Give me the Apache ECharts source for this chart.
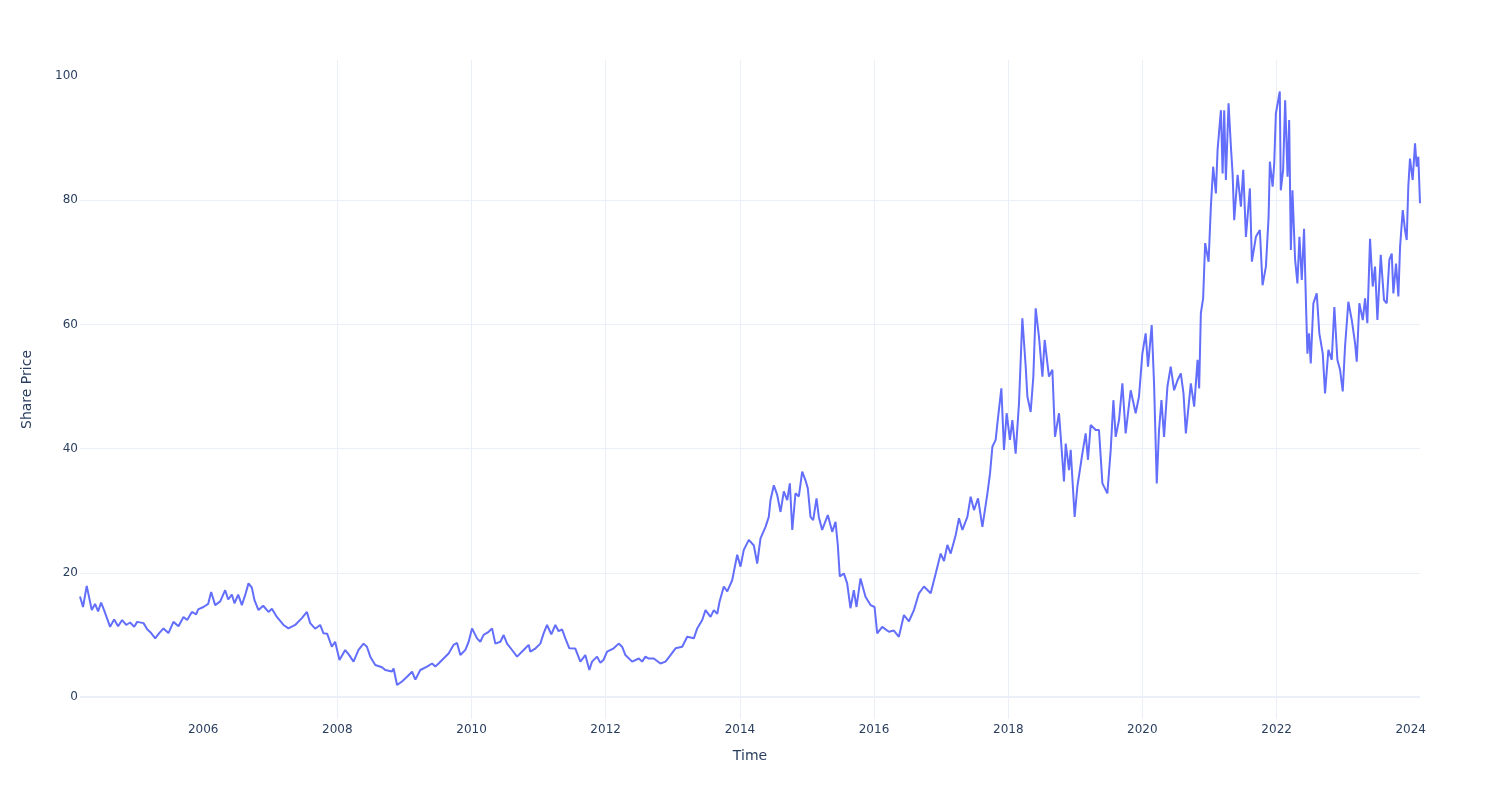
<!DOCTYPE html>
<html><head><meta charset="utf-8">
<script src="https://cdn.jsdelivr.net/npm/echarts@6/dist/echarts.min.js"></script>
<style>html,body{margin:0;padding:0;background:#fff}#c{width:1500px;height:800px}</style>
</head><body><div id="c"></div>
<script>
// time as decimal years
const timeYears = [
2004.165,2004.210,2004.265,2004.340,2004.389,2004.434,2004.479,2004.523,2004.613,2004.673,
2004.732,2004.792,2004.852,2004.911,2004.971,2005.016,2005.110,2005.165,2005.224,2005.284,
2005.344,2005.408,2005.482,2005.557,2005.632,2005.706,2005.761,2005.831,2005.896,2005.925,
2006.004,2006.075,2006.119,2006.179,2006.254,2006.328,2006.373,2006.428,2006.467,2006.522,
2006.577,2006.626,2006.676,2006.726,2006.765,2006.825,2006.895,2006.974,2007.025,2007.099,
2007.198,2007.272,2007.372,2007.472,2007.547,2007.596,2007.670,2007.745,2007.794,2007.849,
2007.919,2007.968,2008.033,2008.118,2008.167,2008.242,2008.316,2008.391,2008.441,2008.491,
2008.565,2008.665,2008.714,2008.814,2008.838,2008.889,2008.963,2009.038,2009.113,2009.162,
2009.236,2009.336,2009.411,2009.460,2009.509,2009.560,2009.658,2009.733,2009.784,2009.833,
2009.908,2009.957,2010.007,2010.082,2010.131,2010.180,2010.255,2010.306,2010.355,2010.430,
2010.479,2010.530,2010.604,2010.679,2010.777,2010.852,2010.877,2010.951,2011.026,2011.075,
2011.126,2011.190,2011.250,2011.299,2011.350,2011.399,2011.459,2011.548,2011.623,2011.697,
2011.757,2011.797,2011.872,2011.921,2011.970,2012.021,2012.120,2012.194,2012.245,2012.294,
2012.394,2012.493,2012.543,2012.592,2012.641,2012.716,2012.816,2012.891,2012.965,2013.040,
2013.140,2013.214,2013.313,2013.363,2013.438,2013.487,2013.562,2013.611,2013.662,2013.696,
2013.760,2013.811,2013.885,2013.934,2013.960,2014.009,2014.058,2014.133,2014.208,2014.258,
2014.307,2014.382,2014.431,2014.456,2014.506,2014.557,2014.606,2014.655,2014.706,2014.745,
2014.781,2014.829,2014.879,2014.929,2014.978,2015.013,2015.053,2015.093,2015.143,2015.177,
2015.227,2015.311,2015.377,2015.426,2015.460,2015.490,2015.550,2015.600,2015.649,2015.699,
2015.739,2015.799,2015.873,2015.948,2016.008,2016.048,2016.122,2016.221,2016.296,2016.370,
2016.445,2016.520,2016.594,2016.669,2016.743,2016.843,2016.918,2016.992,2017.041,2017.092,
2017.141,2017.216,2017.265,2017.316,2017.390,2017.439,2017.489,2017.549,2017.614,2017.689,
2017.728,2017.763,2017.812,2017.838,2017.897,2017.936,2017.976,2018.025,2018.061,2018.110,
2018.160,2018.210,2018.260,2018.285,2018.334,2018.374,2018.409,2018.458,2018.509,2018.543,
2018.607,2018.658,2018.697,2018.757,2018.831,2018.857,2018.906,2018.931,2018.990,2019.031,
2019.105,2019.154,2019.189,2019.229,2019.304,2019.353,2019.404,2019.478,2019.528,2019.568,
2019.602,2019.652,2019.702,2019.751,2019.826,2019.900,2019.950,2020.000,2020.049,2020.084,
2020.139,2020.174,2020.214,2020.248,2020.284,2020.323,2020.373,2020.422,2020.472,2020.523,
2020.572,2020.612,2020.647,2020.721,2020.771,2020.821,2020.845,2020.870,2020.904,2020.934,
2020.985,2021.019,2021.053,2021.094,2021.119,2021.169,2021.194,2021.218,2021.243,2021.283,
2021.318,2021.343,2021.367,2021.418,2021.467,2021.502,2021.542,2021.601,2021.631,2021.691,
2021.750,2021.790,2021.840,2021.880,2021.899,2021.940,2021.964,2021.989,2022.047,2022.062,
2022.097,2022.127,2022.163,2022.187,2022.212,2022.236,2022.275,2022.310,2022.340,2022.375,
2022.409,2022.439,2022.459,2022.484,2022.509,2022.548,2022.598,2022.637,2022.688,2022.722,
2022.772,2022.822,2022.861,2022.906,2022.946,2022.986,2023.020,2023.070,2023.121,2023.170,
2023.195,2023.234,2023.285,2023.319,2023.353,2023.393,2023.433,2023.468,2023.503,2023.553,
2023.602,2023.642,2023.681,2023.717,2023.741,2023.781,2023.816,2023.841,2023.881,2023.915,
2023.940,2023.964,2023.989,2024.029,2024.064,2024.089,2024.113,2024.138
];
const sharePrice = [
16.2,14.5,17.9,14.0,15.0,13.8,15.2,14.0,11.3,12.5,
11.4,12.4,11.6,12.0,11.3,12.1,11.9,10.9,10.3,9.45,
10.3,11.05,10.3,12.1,11.4,12.9,12.4,13.7,13.3,14.1,
14.5,15.0,16.9,14.8,15.4,17.2,15.7,16.5,15.1,16.5,
14.8,16.4,18.3,17.6,15.6,14.0,14.7,13.7,14.2,12.9,
11.6,11.05,11.6,12.7,13.7,11.9,11.0,11.6,10.25,10.2,
8.1,8.9,5.96,7.57,6.9,5.7,7.6,8.6,8.1,6.5,
5.15,4.8,4.35,4.1,4.6,1.93,2.5,3.27,4.07,2.8,
4.35,4.88,5.4,4.9,5.4,5.96,7.0,8.4,8.7,6.76,
7.6,8.9,11.05,9.45,8.9,10.0,10.5,11.05,8.6,8.9,
9.98,8.6,7.57,6.5,7.57,8.4,7.3,7.8,8.6,10.25,
11.6,10.1,11.6,10.6,10.9,9.45,7.84,7.8,5.7,6.76,
4.35,5.7,6.5,5.5,6.0,7.3,7.84,8.6,8.1,6.76,
5.7,6.2,5.7,6.5,6.2,6.2,5.4,5.7,6.76,7.84,
8.1,9.7,9.45,11.05,12.4,14.0,12.9,14.0,13.4,15.35,
17.8,17.0,18.8,21.5,22.9,21.0,23.7,25.3,24.4,21.5,
25.55,27.4,29.0,31.7,34.1,32.5,29.8,33.1,31.7,34.4,
26.9,32.8,32.3,36.3,34.9,33.6,29.0,28.5,32.0,29.0,
26.9,29.3,26.6,28.2,24.5,19.4,19.9,18.3,14.3,17.2,
14.5,19.1,16.15,14.8,14.5,10.25,11.3,10.5,10.7,9.7,
13.2,12.2,14.0,16.7,17.8,16.7,19.9,23.1,21.9,24.5,
23.1,26.1,28.8,26.9,29.0,32.25,30.1,32.0,27.4,32.8,
36.0,40.3,41.4,44.1,49.7,39.8,45.7,41.4,44.6,39.2,
47.3,61.0,53.2,48.4,45.9,51.6,62.6,58.0,51.6,57.5,
51.6,52.7,41.9,45.7,34.7,40.8,36.55,39.8,29.0,33.9,
39.2,42.45,38.2,43.8,43.0,43.0,34.4,32.8,39.8,47.8,
41.9,44.6,50.5,42.45,49.4,45.7,48.4,55.3,58.55,53.2,
59.9,50.5,34.4,43.0,47.8,41.9,50.0,53.2,49.4,51.0,
52.1,48.9,42.45,50.5,46.75,54.3,49.7,61.8,64.2,73.1,
70.1,78.95,85.4,81.1,88.1,94.5,84.3,94.5,83.25,95.6,
88.6,84.3,76.8,84.1,78.95,84.9,74.1,81.9,70.1,74.1,
75.2,66.3,69.3,77.3,86.2,82.2,85.9,94.0,97.5,81.6,
84.9,96.1,83.8,92.9,72.0,81.6,70.5,66.6,74.1,67.15,
75.4,62.8,55.3,58.55,53.7,63.4,65.0,58.55,55.3,48.9,
55.9,54.3,62.8,54.3,52.7,49.2,56.4,63.65,60.7,56.95,
54.0,63.4,60.7,64.2,60.2,73.8,66.1,69.3,60.7,71.2,
63.9,63.4,70.4,71.4,65.0,69.8,64.5,72.5,78.4,75.2,
73.6,82.2,86.7,83.25,89.15,85.4,87.0,79.5
];
const xTickYears = [2006,2008,2010,2012,2014,2016,2018,2020,2022,2024];
const yTickValues = [0,20,40,60,80,100];

function yearToMs(t){
  const y = Math.floor(t);
  const a = Date.UTC(y,0,1), b = Date.UTC(y+1,0,1);
  return a + (t - y) * (b - a);
}
const seriesData = timeYears.map((t,i) => [yearToMs(t), sharePrice[i]]);
const xTickMs = xTickYears.map(y => Date.UTC(y,0,1));

const FONT = 'DejaVu Sans';
const TXT = '#2a3f5f';
const GRID = '#EBF0F8';

const chart = echarts.init(document.getElementById('c'), null, {renderer:'canvas'});
chart.setOption({
  animation: false,
  backgroundColor: '#fff',
  grid: {left: 80, right: 80, top: 60, bottom: 81, containLabel: false},
  xAxis: {
    type: 'value',
    min: seriesData[0][0],
    max: seriesData[seriesData.length-1][0],
    name: 'Time',
    nameLocation: 'middle',
    nameGap: 30,
    nameTextStyle: {fontFamily: FONT, fontSize: 14, color: TXT},
    axisLine: {show: false},
    axisTick: {show: false, customValues: xTickMs},
    axisLabel: {
      customValues: xTickMs,
      margin: 5,
      fontFamily: FONT, fontSize: 12, color: TXT,
      formatter: v => String(new Date(v).getUTCFullYear())
    },
    splitLine: {show: true, showMinLine: false, showMaxLine: false, lineStyle: {color: GRID, width: 1}}
  },
  yAxis: {
    type: 'value',
    min: -3.54,
    max: 102.58,
    name: 'Share Price',
    nameLocation: 'middle',
    nameGap: 46,
    nameRotate: 90,
    nameTextStyle: {fontFamily: FONT, fontSize: 14, color: TXT},
    axisLine: {show: false},
    axisTick: {show: false, customValues: yTickValues},
    axisLabel: {customValues: yTickValues, margin: 2, padding: [4,0,0,0], fontFamily: FONT, fontSize: 12, color: TXT},
    splitLine: {show: true, showMinLine: false, showMaxLine: false, lineStyle: {color: GRID, width: 1}}
  },
  series: [{
    type: 'line',
    data: seriesData,
    showSymbol: false,
    symbol: 'none',
    lineStyle: {color: '#636efa', width: 2},
    itemStyle: {color: '#636efa'},
    markLine: {
      silent: true, symbol: 'none', label: {show: false},
      lineStyle: {color: GRID, width: 2, type: 'solid'},
      data: [{yAxis: 0}]
    },
    z: 3
  }]
});
</script>
</body></html>
